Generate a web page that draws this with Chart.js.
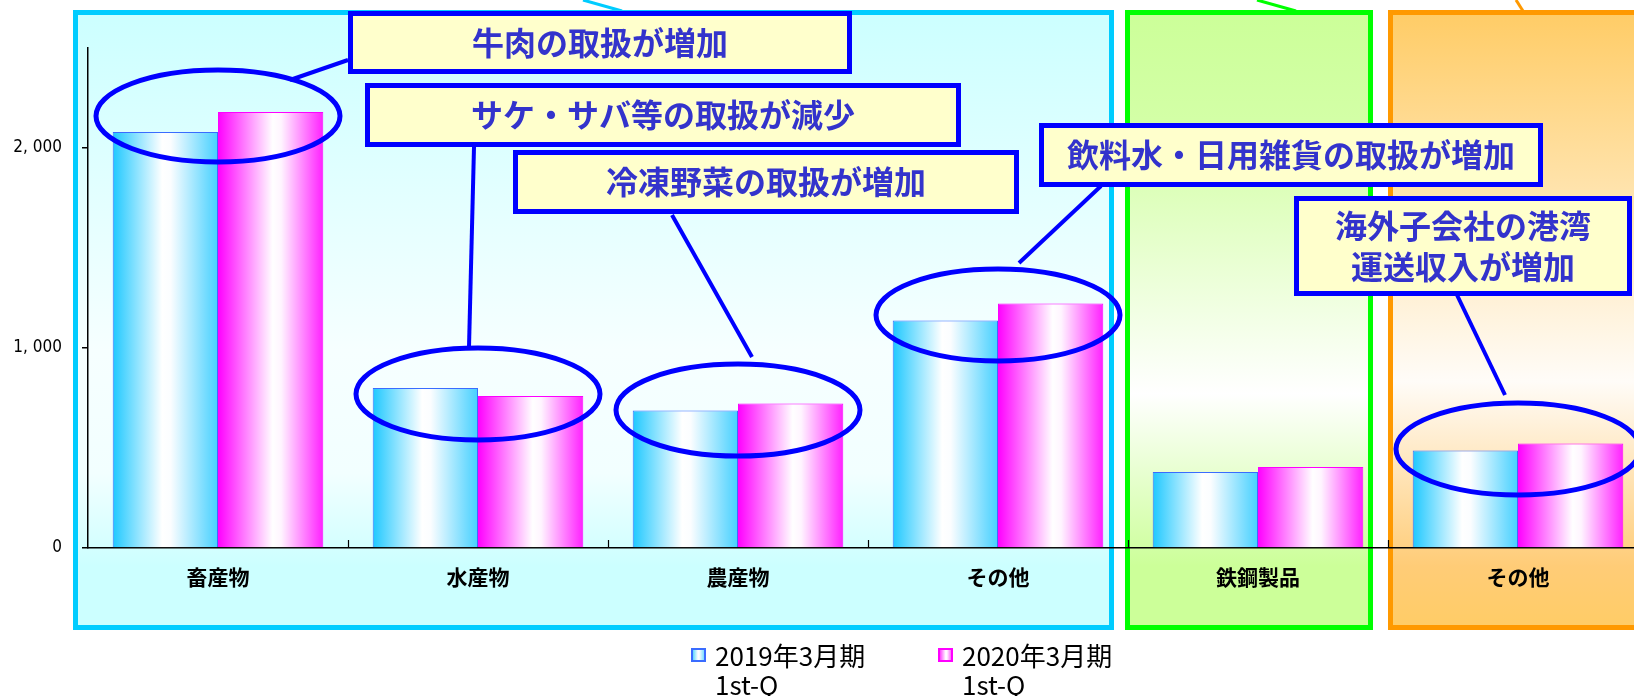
<!DOCTYPE html>
<html>
<head>
<meta charset="utf-8">
<script src="https://cdn.jsdelivr.net/npm/chart.js@4.4.0/dist/chart.umd.min.js"></script>
<style>
html, body { margin: 0; padding: 0; overflow: hidden; background: #fff; }
#wrap { position: relative; width: 1660px; height: 696px; }
</style>
</head>
<body>
<div id="wrap"><canvas id="grafico" width="1660" height="696"></canvas></div>
<script>
// datos
const categories = ['畜産物', '水産物', '農産物', 'その他', '鉄鋼製品', 'その他']
const q2019 = [2080, 800, 687, 1138, 380, 488]
const q2020 = [2180, 760, 722, 1222, 405, 522]
const seriesNames = [['2019年3月期', '1st-Q'], ['2020年3月期', '1st-Q']]
const yTicks = [0, 1000, 2000]
const yTickLabels = ['0', '1, 000', '2, 000']
const notes = [['牛肉の取扱が増加'], ['サケ・サバ等の取扱が減少'], ['冷凍野菜の取扱が増加'], ['飲料水・日用雑貨の取扱が増加'], ['海外子会社の港湾', '運送収入が増加']]
const noteCats = [0, 1, 2, 3, 5]

const GROUP = 0.81
const JP = "'Noto Sans CJK JP', 'Noto Sans', sans-serif"

// decoracion (paneles, recuadros, lineas)
const panels = [
    {x: 75.5, y: 12.5, w: 1036, h: 615, line: '#00ccff', stops: [[0, '#ccffff'], [0.55, '#f6ffff'], [0.75, '#f2ffff'], [0.9, '#ccffff'], [1, '#ccffff']]},
    {x: 1127.5, y: 12.5, w: 243, h: 615, line: '#00ff00', stops: [[0, '#ccff99'], [0.2, '#d4ffa8'], [0.62, '#ffffff'], [0.9, '#ccff99'], [1, '#ccff99']]},
    {x: 1390.5, y: 12.5, w: 400, h: 615, line: '#ff9900', stops: [[0, '#ffcc66'], [0.6, '#fffcf8'], [0.9, '#ffcc77'], [1, '#ffcc66']]}
]
const topLines = [
    {a: [583, 0], b: [622, 11], color: '#00ccff'},
    {a: [1257, 0], b: [1296, 11], color: '#00ff00'},
    {a: [1516, 0], b: [1523, 11], color: '#ff9900'}
]
const boxes = [
    {x: 350.5, y: 13.5, w: 499, h: 58},
    {x: 367.5, y: 85.5, w: 591, h: 59},
    {x: 515.5, y: 152.5, w: 501, h: 59},
    {x: 1041.5, y: 125.5, w: 499, h: 59},
    {x: 1296.5, y: 198.5, w: 333, h: 95}
]
const leaders = [
    [[348, 60], [290, 80]],
    [[474, 147], [469, 347]],
    [[672, 215], [752, 357]],
    [[1101, 186], [1019, 263]],
    [[1457, 295], [1505, 395]]
]
const ellOffset = [-6, 2, 3, 3, 2]
const legendPos = [{x: 691, y: 648, tx: 715}, {x: 938, y: 648, tx: 962}]

function barGradient(c, ds, stops) {
    const chart = c.chart
    if (!chart.chartArea || c.dataIndex === undefined) return stops[0][1]
    const sx = chart.scales.x
    const grp = sx.width / categories.length * GROUP
    const left = sx.getPixelForValue(c.dataIndex) - grp / 2 + ds * grp / 2
    const g = chart.ctx.createLinearGradient(left, 0, left + grp / 2, 0)
    stops.forEach(s => g.addColorStop(s[0], s[1]))
    return g
}
const blueStops = [[0, '#1ec8ff'], [0.47, '#ffffff'], [0.55, '#fbfdff'], [1, '#45d0ff']]
const pinkStops = [[0, '#ff00ff'], [0.52, '#ffffff'], [0.6, '#fff4ff'], [1, '#ff20ff']]

const decor = {
    id: 'decor',
    beforeDraw(chart) {
        const ctx = chart.ctx
        ctx.save()
        panels.forEach(p => {
            const g = ctx.createLinearGradient(0, p.y, 0, p.y + p.h)
            p.stops.forEach(s => g.addColorStop(s[0], s[1]))
            ctx.fillStyle = g
            ctx.fillRect(p.x, p.y, p.w, p.h)
            ctx.lineWidth = 5
            ctx.strokeStyle = p.line
            ctx.strokeRect(p.x, p.y, p.w, p.h)
        })
        topLines.forEach(l => {
            ctx.beginPath()
            ctx.moveTo(l.a[0], l.a[1])
            ctx.lineTo(l.b[0], l.b[1])
            ctx.lineWidth = 3
            ctx.strokeStyle = l.color
            ctx.stroke()
        })
        ctx.restore()
    },
    afterDraw(chart) {
        const ctx = chart.ctx
        const sx = chart.scales.x, sy = chart.scales.y
        const area = chart.chartArea
        ctx.save()
        // marcas del eje x hacia dentro
        ctx.strokeStyle = '#000'
        ctx.lineWidth = 1.2
        for (let k = 1; k < categories.length; k++) {
            const x = Math.round((sx.getPixelForValue(k - 1) + sx.getPixelForValue(k)) / 2) + 0.5
            ctx.beginPath()
            ctx.moveTo(x, area.bottom)
            ctx.lineTo(x, area.bottom - 8)
            ctx.stroke()
        }
        // lineas de las notas
        ctx.strokeStyle = '#0000ff'
        ctx.lineWidth = 4
        leaders.forEach(l => {
            ctx.beginPath()
            ctx.moveTo(l[0][0], l[0][1])
            ctx.lineTo(l[1][0], l[1][1])
            ctx.stroke()
        })
        // elipses
        ctx.lineWidth = 5
        noteCats.forEach((i, n) => {
            const cx = sx.getPixelForValue(i)
            const cy = sy.getPixelForValue((q2019[i] + q2020[i]) / 2) + ellOffset[n]
            ctx.beginPath()
            ctx.ellipse(cx, cy, 122, 46, 0, 0, Math.PI * 2)
            ctx.stroke()
        })
        // recuadros
        notes.forEach((t, n) => {
            const b = boxes[n]
            ctx.fillStyle = '#ffffcc'
            ctx.fillRect(b.x, b.y, b.w, b.h)
            ctx.lineWidth = 5
            ctx.strokeStyle = '#0000ff'
            ctx.strokeRect(b.x, b.y, b.w, b.h)
            ctx.fillStyle = '#3333cc'
            ctx.font = 'bold 32px ' + JP
            ctx.textAlign = 'center'
            ctx.textBaseline = 'middle'
            const lh = 41
            const y0 = b.y + b.h / 2 - (t.length - 1) * lh / 2
            t.forEach((s, j) => ctx.fillText(s, b.x + b.w / 2, y0 + j * lh))
        })
        // leyenda
        const lstops = [blueStops, pinkStops]
        const lcol = ['#3a6cff', '#ff00ff']
        seriesNames.forEach((nm, i) => {
            const p = legendPos[i]
            const g = ctx.createLinearGradient(p.x, 0, p.x + 15, 0)
            lstops[i].forEach(s => g.addColorStop(s[0], s[1]))
            ctx.fillStyle = g
            ctx.fillRect(p.x, p.y, 15, 14)
            ctx.lineWidth = 2
            ctx.strokeStyle = lcol[i]
            ctx.strokeRect(p.x + 1, p.y + 1, 13, 12)
            ctx.fillStyle = '#000'
            ctx.font = '26px ' + JP
            ctx.textAlign = 'left'
            ctx.textBaseline = 'middle'
            nm.forEach((s, j) => ctx.fillText(s, p.tx, p.y + 8 + j * 29))
        })
        ctx.restore()
    }
}

const data = {
    labels: categories,
    datasets: [{
        label: seriesNames[0].join(' '),
        data: q2019,
        backgroundColor: c => barGradient(c, 0, blueStops),
        borderColor: '#3a6cff',
        borderWidth: 1
    }, {
        label: seriesNames[1].join(' '),
        data: q2020,
        backgroundColor: c => barGradient(c, 1, pinkStops),
        borderColor: '#ff00ff',
        borderWidth: 1
    }]
}

const options = {
    responsive: false,
    animation: false,
    layout: {padding: {top: 48, right: 12, left: 0, bottom: 0}},
    datasets: {bar: {categoryPercentage: GROUP, barPercentage: 1}},
    scales: {
        x: {
            afterFit: s => { s.height = 148 },
            grid: {display: false},
            border: {display: true, color: '#000', width: 1.5},
            ticks: {
                color: '#000',
                padding: 8,
                font: {family: JP, size: 21, weight: 'bold'}
            }
        },
        y: {
            min: 0,
            max: 2500,
            afterFit: s => { s.width = 88 },
            afterBuildTicks: s => { s.ticks = yTicks.map(v => ({value: v})) },
            grid: {drawOnChartArea: false, drawTicks: true, tickLength: 6, color: '#000', lineWidth: 1.5},
            border: {display: true, color: '#000', width: 1.5},
            ticks: {
                color: '#000',
                padding: 20,
                font: {family: "'DejaVu Sans Condensed', 'DejaVu Sans'", size: 17},
                callback: (v) => yTickLabels[yTicks.indexOf(v)]
            }
        }
    },
    plugins: {
        legend: {display: false},
        tooltip: {enabled: false}
    }
}

const ctx = document.getElementById('grafico').getContext('2d')
const mychart = new Chart(ctx, {type: 'bar', data, options, plugins: [decor]})
</script>
</body>
</html>
